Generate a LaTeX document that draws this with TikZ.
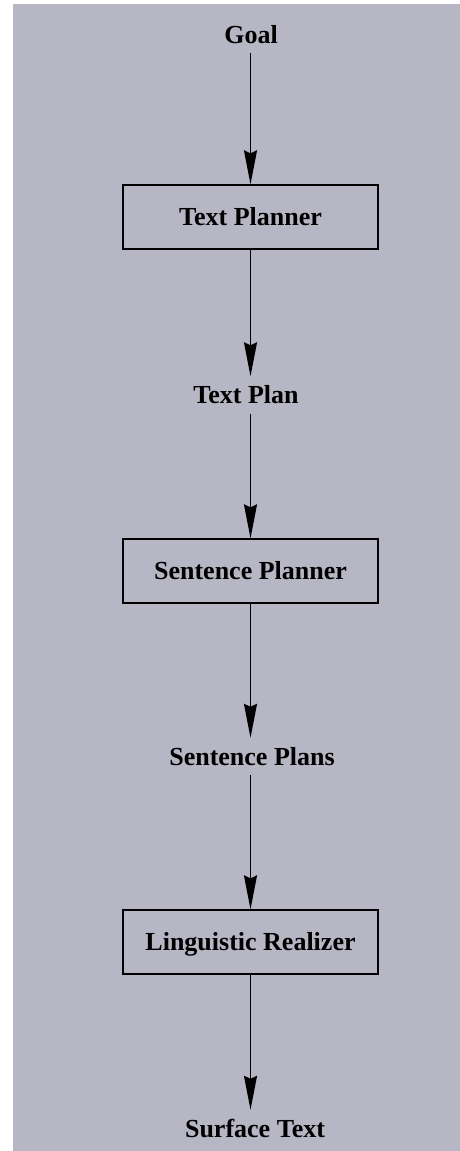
\documentclass[tikz,border=0pt]{standalone}
\usepackage{fontspec}
\setmainfont{Liberation Serif}
\usetikzlibrary{arrows.meta}
\definecolor{bgpaper}{RGB}{182,182,196}
\tikzset{
  lbl/.style={font=\fontsize{26}{30}\selectfont\bfseries, text height=17pt, text depth=0pt, inner xsep=2pt, inner ysep=10pt},
  procbox/.style={draw=black, line width=1.3pt, minimum width=255pt, minimum height=64pt, inner sep=0pt, font=\fontsize{26}{30}\selectfont\bfseries, text height=17pt, text depth=0pt},
  flow/.style={line width=1.6pt, -{Stealth[length=34pt, width=13pt, inset=3pt]}}
}
\begin{document}
\begin{tikzpicture}[x=1pt,y=-1pt]
\useasboundingbox (0,0) rectangle (460,1151);
\fill[bgpaper] (13,4) rectangle (460,1151);
\node[lbl] (goal) at (251,34.5) {Goal};
\node[procbox] (tp) at (250.5,217) {Text Planner};
\node[lbl] (tplan) at (246,395) {Text Plan};
\node[procbox] (sp) at (250.5,571) {Sentence Planner};
\node[lbl] (splans) at (252,756.5) {Sentence Plans};
\node[procbox] (lr) at (250.5,942) {Linguistic Realizer};
\node[lbl] (stext) at (255,1128.5) {Surface Text};
\draw[flow] (goal.south -| tp.north) -- (tp.north);
\draw[flow] (tp.south) -- (tp.south |- tplan.north);
\draw[flow] (tplan.south -| tp.south) -- (sp.north);
\draw[flow] (sp.south) -- (sp.south |- splans.north);
\draw[flow] (splans.south -| sp.south) -- (lr.north);
\draw[flow] (lr.south) -- (lr.south |- stext.north);
\end{tikzpicture}
\end{document}
